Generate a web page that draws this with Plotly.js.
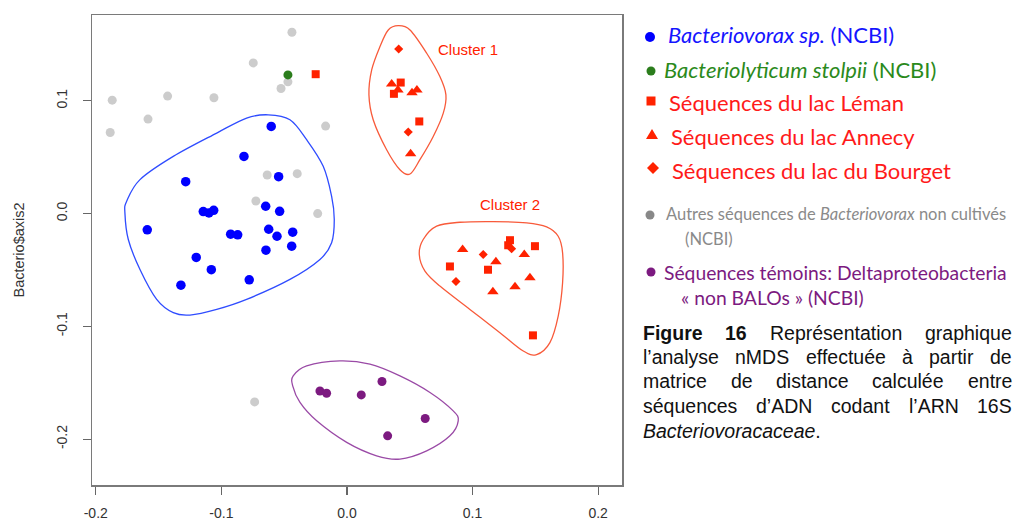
<!DOCTYPE html>
<html>
<head>
<meta charset="utf-8">
<script src="https://cdn.plot.ly/plotly-3.0.1.min.js"></script>
<style>
  html, body { margin: 0; padding: 0; background: #ffffff; }
  #chart { width: 1014px; height: 525px; }
</style>
</head>
<body>
<div id="chart"></div>
<script>
// nMDS ordination of Bacteriovoracaceae 16S rRNA sequences (axis 1 vs axis 2)

// Bacteriovorax sp. (NCBI)
const xBacteriovorax = [-0.0603, -0.0820, -0.0544, -0.1284, -0.0647, -0.0536, -0.1144, -0.1099, -0.1061, -0.1590, -0.0926,
                        -0.0870, -0.0623, -0.0557, -0.0432, -0.0645, -0.0440, -0.1200, -0.1080, -0.0778, -0.1322];
const yBacteriovorax = [0.0773, 0.0507, 0.0327, 0.0283, 0.0065, 0.0020, 0.0018, 0.0006, 0.0029, -0.0144, -0.0183,
                        -0.0188, -0.0139, -0.0201, -0.0165, -0.0325, -0.0289, -0.0389, -0.0498, -0.0587, -0.0635];

// Bacteriolyticum stolpii (NCBI)
const xStolpii = [-0.0470];
const yStolpii = [0.1230];

// Other uncultured Bacteriovorax sequences (NCBI)
const xUncultured = [-0.0438, -0.0746, -0.0470, -0.0525, -0.1869, -0.1428, -0.1059, -0.1584, -0.1885, -0.0170,
                     -0.0635, -0.0396, -0.0725, -0.0233, -0.0735];
const yUncultured = [0.1608, 0.1336, 0.1168, 0.1109, 0.1006, 0.1042, 0.1027, 0.0838, 0.0719, 0.0776,
                     0.0342, 0.0354, 0.0112, 0.0000, -0.1670];

// Lake Geneva (Léman) sequences
const xLeman = [-0.0249, 0.0428, 0.0374, 0.0576, 0.1298, 0.1284, 0.1497, 0.0820, 0.1123, 0.1481];
const yLeman = [0.1236, 0.1162, 0.1062, 0.0817, -0.0236, -0.0281, -0.0289, -0.0469, -0.0498, -0.1080];

// Lake Annecy sequences
const xAnnecy = [0.0356, 0.0406, 0.0518, 0.0557, 0.0507, 0.0921, 0.1412, 0.1186, 0.1457, 0.1338, 0.1162];
const yAnnecy = [0.1150, 0.1097, 0.1071, 0.1097, 0.0531, -0.0319, -0.0363, -0.0427, -0.0569, -0.0649, -0.0693];

// Lac du Bourget sequences
const xBourget = [0.0412, 0.0488, 0.1085, 0.1311, 0.0868];
const yBourget = [0.1460, 0.0723, -0.0363, -0.0312, -0.0602];

// Control sequences: Deltaproteobacteria "non BALOs" (NCBI)
const xControl = [-0.0215, -0.0162, 0.0114, 0.0279, 0.0623, 0.0324];
const yControl = [-0.1573, -0.1593, -0.1608, -0.1489, -0.1817, -0.1971];

// Hand-drawn group outlines (closed curves through these points)
const xOutlineBlue = [-0.0627, -0.0454, -0.0321, -0.0189, -0.0122, -0.0101, -0.0122, -0.0215, -0.0454, -0.0799, -0.1037,
                      -0.1250, -0.1383, -0.1515, -0.1648, -0.1741, -0.1768, -0.1754, -0.1648, -0.1383, -0.1037, -0.0799];
const yOutlineBlue = [0.0876, 0.0832, 0.0655, 0.0419, 0.0153, -0.0053, -0.0259, -0.0407, -0.0584, -0.0761, -0.0850,
                      -0.0900, -0.0879, -0.0761, -0.0496, -0.0230, 0.0006, 0.0109, 0.0301, 0.0507, 0.0714, 0.0847];
const xOutlineCluster1 = [0.0408, 0.0502, 0.0635, 0.0740, 0.0788, 0.0767, 0.0687, 0.0581, 0.0502, 0.0422, 0.0316,
                          0.0209, 0.0175, 0.0197, 0.0263, 0.0329];
const yOutlineCluster1 = [0.1666, 0.1628, 0.1422, 0.1215, 0.1053, 0.0891, 0.0684, 0.0478, 0.0351, 0.0389, 0.0566,
                          0.0832, 0.1053, 0.1274, 0.1481, 0.1628];
const xOutlineCluster2 = [0.0714, 0.0900, 0.1165, 0.1431, 0.1590, 0.1682, 0.1717, 0.1717, 0.1682, 0.1616, 0.1510,
                          0.1404, 0.1218, 0.0979, 0.0740, 0.0621, 0.0576, 0.0607];
const yOutlineCluster2 = [-0.0112, -0.0077, -0.0071, -0.0082, -0.0118, -0.0201, -0.0348, -0.0613, -0.0909, -0.1144, -0.1250,
                          -0.1219, -0.1056, -0.0850, -0.0643, -0.0510, -0.0363, -0.0230];
const xOutlineControl = [-0.0428, -0.0321, -0.0056, 0.0183, 0.0422, 0.0661, 0.0846, 0.0886, 0.0820, 0.0635, 0.0422,
                         0.0236, -0.0002, -0.0241, -0.0374, -0.0432];
const yOutlineControl = [-0.1440, -0.1351, -0.1307, -0.1336, -0.1440, -0.1587, -0.1750, -0.1838, -0.1971, -0.2104, -0.2177,
                         -0.2148, -0.2029, -0.1838, -0.1675, -0.1528];

// Cluster labels
const clusterLabels = ["Cluster 1", "Cluster 2"];
const xClusterLabels = [0.0961, 0.1298];
const yClusterLabels = [0.1458, 0.0080];

// Axes
const xTickVals = [-0.2, -0.1, 0.0, 0.1, 0.2];
const xTickText = ["-0.2", "-0.1", "0.0", "0.1", "0.2"];
const yTickVals = [-0.2, -0.1, 0.0, 0.1];
const yTickText = ["-0.2", "-0.1", "0.0", "0.1"];
const yAxisTitle = "Bacterio$axis2";

// Key entries
const keyLines = [
  "<i>Bacteriovorax sp.</i> (NCBI)",
  "<i>Bacteriolyticum stolpii</i> (NCBI)",
  "Séquences du lac Léman",
  "Séquences du lac Annecy",
  "Séquences du lac du Bourget",
  "Autres séquences de <i>Bacteriovorax</i> non cultivés",
  "(NCBI)",
  "Séquences témoins: Deltaproteobacteria",
  "« non BALOs » (NCBI)"
];

// Figure caption
const captionLines = [
  "<b>Figure</b> <b>16</b> Représentation graphique",
  "l’analyse nMDS effectuée à partir de",
  "matrice de distance calculée entre",
  "séquences d’ADN codant l’ARN 16S",
  "<i>Bacteriovoracaceae</i>."
];

// ---------------------------------------------------------------------------
const W = 1014, H = 525;
const PL = 92, PR = 622, PT = 15, PB = 485;
const X_RANGE = [-0.2030, 0.2190];
const Y_RANGE = [-0.2407, 0.1761];

const COL_BLUE = "#0000ff";
const COL_RED = "#ff2200";
const COL_GREY = "#cccccc";
const COL_GREEN = "#2b7d1c";
const COL_PURPLE = "#7c1a80";

const px2x = px => (px - PL) / (PR - PL);
const py2y = py => (PB - py) / (PB - PT);

// Closed Catmull-Rom curve as a cubic Bezier SVG path in data units
function closedCurve(xs, ys) {
  const n = xs.length;
  const f = v => v.toFixed(5);
  let d = "M" + f(xs[0]) + "," + f(ys[0]);
  for (let i = 0; i < n; i++) {
    const i0 = (i - 1 + n) % n, i1 = i, i2 = (i + 1) % n, i3 = (i + 2) % n;
    const c1x = xs[i1] + (xs[i2] - xs[i0]) / 6, c1y = ys[i1] + (ys[i2] - ys[i0]) / 6;
    const c2x = xs[i2] - (xs[i3] - xs[i1]) / 6, c2y = ys[i2] - (ys[i3] - ys[i1]) / 6;
    d += " C" + f(c1x) + "," + f(c1y) + " " + f(c2x) + "," + f(c2y) + " " + f(xs[i2]) + "," + f(ys[i2]);
  }
  return d + " Z";
}

function scatter(xs, ys, symbol, color, size) {
  return {
    type: "scatter", mode: "markers", x: xs, y: ys, hoverinfo: "skip", showlegend: false,
    marker: { symbol: symbol, color: color, size: size, line: { width: 0 } }
  };
}

const traces = [
  scatter(xUncultured, yUncultured, "circle", COL_GREY, 9),
  scatter(xBacteriovorax, yBacteriovorax, "circle", COL_BLUE, 9.5),
  scatter(xStolpii, yStolpii, "circle", COL_GREEN, 9),
  scatter(xControl, yControl, "circle", COL_PURPLE, 9),
  scatter(xLeman, yLeman, "square", COL_RED, 8),
  scatter(xAnnecy, yAnnecy, "triangle-up", COL_RED, 10),
  scatter(xBourget, yBourget, "diamond", COL_RED, 7)
];

const shapes = [
  { path: closedCurve(xOutlineBlue, yOutlineBlue), color: "#2f4cff" },
  { path: closedCurve(xOutlineCluster1, yOutlineCluster1), color: "#f85a3a" },
  { path: closedCurve(xOutlineCluster2, yOutlineCluster2), color: "#f85a3a" },
  { path: closedCurve(xOutlineControl, yOutlineControl), color: "#9a4aa6" }
].map(o => ({ type: "path", xref: "x", yref: "y", path: o.path, line: { color: o.color, width: 1.3 }, layer: "above" }));

// Key symbols, sized in pixels
function keySymbol(type, cxPx, cyPx, color, r, path) {
  const s = { xref: "paper", yref: "paper", xsizemode: "pixel", ysizemode: "pixel",
              xanchor: px2x(cxPx), yanchor: py2y(cyPx), fillcolor: color, line: { width: 0 } };
  if (type === "path") { s.type = "path"; s.path = path; }
  else { s.type = type; s.x0 = -r; s.x1 = r; s.y0 = -r; s.y1 = r; }
  return s;
}
shapes.push(keySymbol("circle", 650, 37, COL_BLUE, 5));
shapes.push(keySymbol("circle", 651, 71, COL_GREEN, 4.5));
shapes.push(keySymbol("rect", 651, 101, COL_RED, 4.5));
shapes.push(keySymbol("path", 652, 134, COL_RED, 0, "M-6,-5 L6,-5 L0,5 Z"));
shapes.push(keySymbol("path", 653, 168, COL_RED, 0, "M0,-6 L6,0 L0,6 L-6,0 Z"));
shapes.push(keySymbol("circle", 650, 215, "#888888", 4.5));
shapes.push(keySymbol("circle", 651, 272, COL_PURPLE, 4.5));

const annotations = [];

// Cluster labels in data units
clusterLabels.forEach((t, i) => annotations.push({
  xref: "x", yref: "y", x: xClusterLabels[i], y: yClusterLabels[i], text: t, showarrow: false,
  xanchor: "center", yanchor: "middle", font: { family: "Liberation Sans, Arial, sans-serif", size: 15, color: COL_RED }
}));

// Key texts
const KEY_FONT = "Lato, 'Open Sans', sans-serif";
const keySpec = [
  { x: 666, y: 35, size: 22, color: "#1515ff" },
  { x: 662, y: 69, size: 22, color: "#2b8a1c" },
  { x: 667, y: 102, size: 22, color: "#ff1a1a" },
  { x: 669, y: 136, size: 22, color: "#ff1a1a" },
  { x: 670, y: 170, size: 22, color: "#ff1a1a" },
  { x: 664, y: 214, size: 16.5, color: "#8a8a8a" },
  { x: 683, y: 239, size: 16.5, color: "#8a8a8a" },
  { x: 662, y: 272, size: 19.3, color: "#7c1a80" },
  { x: 679, y: 297, size: 19.3, color: "#7c1a80" }
];
keyLines.forEach((t, i) => {
  const k = keySpec[i];
  annotations.push({ xref: "paper", yref: "paper", x: px2x(k.x), y: py2y(k.y), text: t, showarrow: false,
    xanchor: "left", yanchor: "middle", font: { family: KEY_FONT, size: k.size, color: k.color } });
});

// Caption, justified word by word
const CAP_FAMILY = "Liberation Sans";
const CAP_SIZE = 19.5;
const CAP_LEFT = 643, CAP_RIGHT = 1012;
const capY = [332.5, 357, 381.5, 406, 431];
const ctx = document.createElement("canvas").getContext("2d");
function wordWidth(w) {
  const bold = w.indexOf("<b>") >= 0, ital = w.indexOf("<i>") >= 0;
  ctx.font = (ital ? "italic " : "") + (bold ? "bold " : "") + CAP_SIZE + "px '" + CAP_FAMILY + "'";
  return ctx.measureText(w.replace(/<[^>]+>/g, "")).width;
}
captionLines.forEach((line, li) => {
  const capFont = { family: CAP_FAMILY + ", Arial, sans-serif", size: CAP_SIZE, color: "#111111" };
  if (li === captionLines.length - 1) {
    annotations.push({ xref: "paper", yref: "paper", x: px2x(CAP_LEFT - 2), y: py2y(capY[li]), text: line,
      showarrow: false, xanchor: "left", yanchor: "middle", font: capFont });
    return;
  }
  const words = line.split(" ");
  const widths = words.map(wordWidth);
  const total = widths.reduce((a, b) => a + b, 0);
  const gap = (CAP_RIGHT - CAP_LEFT - total) / (words.length - 1);
  let pos = CAP_LEFT;
  words.forEach((w, wi) => {
    annotations.push({ xref: "paper", yref: "paper", x: px2x(pos - 2), y: py2y(capY[li]), text: w,
      showarrow: false, xanchor: "left", yanchor: "middle", font: capFont });
    pos += widths[wi] + gap;
  });
});

const axisFont = { family: "Liberation Sans, Arial, sans-serif", size: 14, color: "#333333" };
const layout = {
  width: W, height: H,
  margin: { l: PL, r: W - PR, t: PT, b: H - PB, pad: 0 },
  paper_bgcolor: "#ffffff", plot_bgcolor: "#ffffff",
  showlegend: false,
  xaxis: {
    range: X_RANGE, tickvals: xTickVals, ticktext: xTickText, ticks: "outside", ticklen: 8, tickwidth: 1.2,
    tickcolor: "#666666", showline: true, mirror: true, linecolor: "#7a7a7a", linewidth: 1.5,
    showgrid: false, zeroline: false, tickfont: axisFont, ticklabelstandoff: 7, fixedrange: true
  },
  yaxis: {
    range: Y_RANGE, tickvals: yTickVals, ticktext: yTickText, ticks: "outside", ticklen: 8, tickwidth: 1.2,
    tickcolor: "#666666", showline: true, mirror: true, linecolor: "#7a7a7a", linewidth: 1.5,
    showgrid: false, zeroline: false, tickfont: axisFont, tickangle: -90, ticklabelstandoff: 10,
    title: { text: yAxisTitle, font: { family: axisFont.family, size: 14.5, color: "#333333" }, standoff: 26 },
    fixedrange: true
  },
  shapes: shapes,
  annotations: annotations
};

Plotly.newPlot("chart", traces, layout, { staticPlot: true, displayModeBar: false });
</script>
</body>
</html>
